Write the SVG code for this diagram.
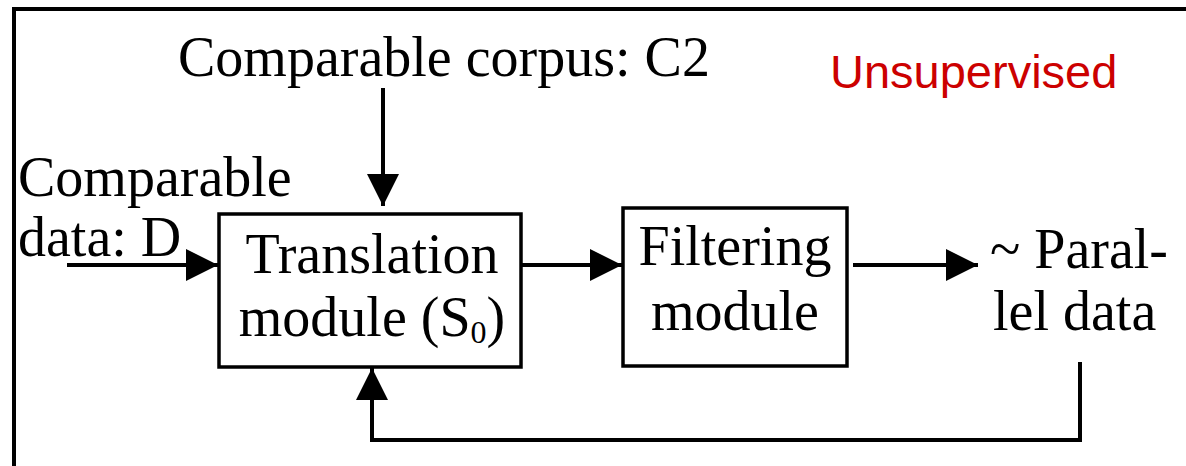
<svg xmlns="http://www.w3.org/2000/svg" width="1186" height="466" viewBox="0 0 1186 466">
<style>
.t{font-family:"Liberation Serif","Times New Roman",serif;font-size:56px;fill:#000}
.box{fill:#fff;stroke:#000;stroke-width:3.5}
.ln{fill:none;stroke:#000;stroke-width:4}
</style>
<defs>
<marker id="ah" markerUnits="userSpaceOnUse" markerWidth="34" markerHeight="34" refX="32" refY="16" orient="auto">
<path d="M0,0 L32,16 L0,32 Z" fill="#000"/>
</marker>
</defs>
<rect width="1186" height="466" fill="#fff"/>
<path d="M14,470 L14,9 L1190,9" fill="none" stroke="#000" stroke-width="4"/>
<g id="corpus"><text class="t" x="178" y="76">Comparable corpus: C2</text></g>
<g id="unsupervised"><text x="830" y="88" font-family="Liberation Sans, Arial, sans-serif" font-size="47" fill="#cc0000">Unsupervised</text></g>
<g id="data"><text class="t" x="18" y="196">Comparable</text><text class="t" x="18" y="256">data: D</text></g>
<g id="translation"><rect class="box" x="219" y="214" width="302" height="153"/>
<text class="t" x="372" y="273" text-anchor="middle">Translation</text>
<text class="t" x="372" y="336" text-anchor="middle">module (S<tspan font-size="32" dy="7">0</tspan><tspan dy="-7">)</tspan></text></g>
<g id="filtering"><rect class="box" x="623" y="208" width="224" height="158"/>
<text class="t" x="735" y="265" text-anchor="middle">Filtering</text>
<text class="t" x="735" y="330" text-anchor="middle">module</text></g>
<g id="parallel"><text class="t" x="990" y="268">~ Paral-</text><text class="t" x="993" y="330">lel data</text></g>
<g id="connectors">
<line class="ln" x1="383" y1="88" x2="383" y2="206" marker-end="url(#ah)"/>
<line class="ln" x1="67" y1="265" x2="218" y2="265" marker-end="url(#ah)"/>
<line class="ln" x1="521" y1="265" x2="622" y2="265" marker-end="url(#ah)"/>
<line class="ln" x1="853" y1="265" x2="978" y2="265" marker-end="url(#ah)"/>
<path class="ln" d="M1080,362 L1080,440 L372,440 L372,368" marker-end="url(#ah)"/>
</g>
</svg>
